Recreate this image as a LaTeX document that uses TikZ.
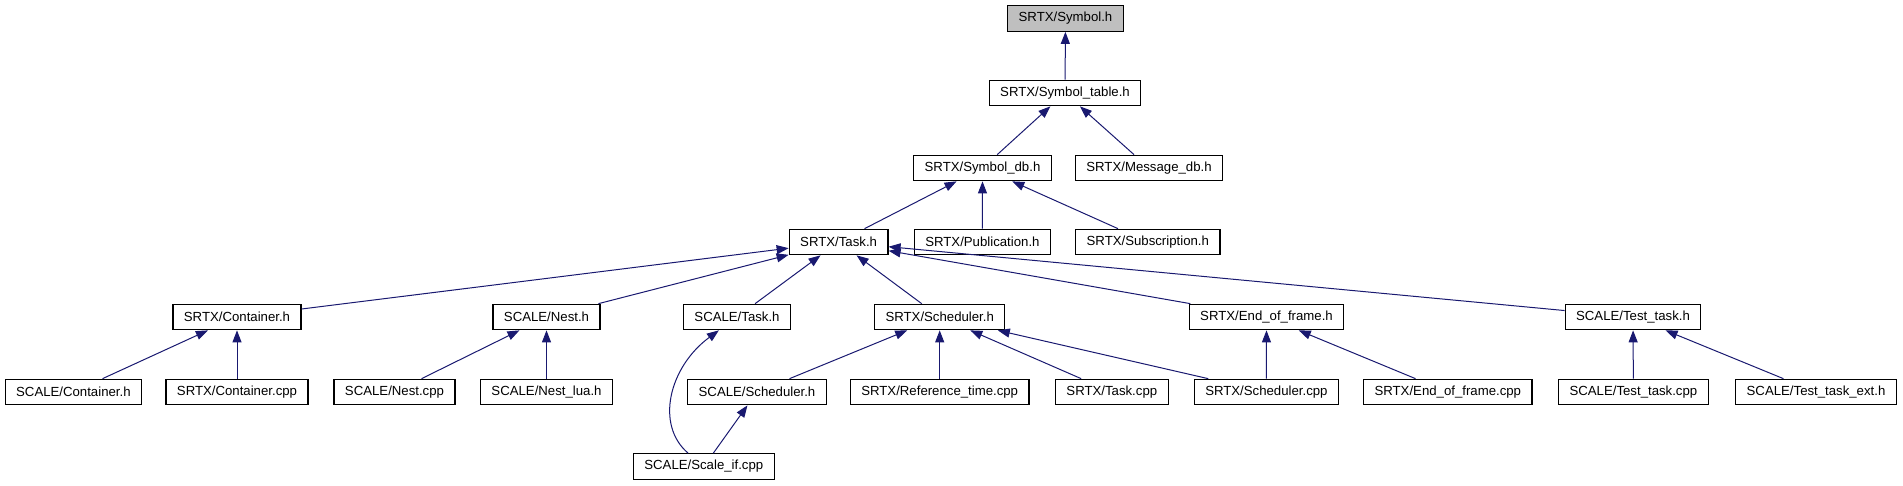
\documentclass[tikz,border=0pt]{standalone}
\usepackage{fontspec}
\setmainfont{Liberation Sans}
\usetikzlibrary{arrows.meta}
\definecolor{edgeblue}{HTML}{191970}
\definecolor{rootgrey}{HTML}{BFBFBF}
\begin{document}
\begin{tikzpicture}[x=1pt,y=-1pt,
  every node/.style={font=\fontsize{13.2}{15}\selectfont},
  file/.style={draw=black,line width=1.2pt,fill=white,inner xsep=11pt,inner ysep=0pt,minimum height=25.5pt},
  root/.style={file,fill=rootgrey},
  dep/.style={draw=edgeblue,line width=1pt,-{Triangle[length=12pt,width=9pt]}}]
  \useasboundingbox (0,0) rectangle (1903,485);
  % rows 1-3
  \node[root] (sym) at (1065.5,18.5) {SRTX/Symbol.h};
  \node[file] (symtab) at (1065,93) {SRTX/Symbol\_table.h};
  \node[file] (symdb) at (982.5,168) {SRTX/Symbol\_db.h};
  \node[file] (msgdb) at (1149,168) {SRTX/Message\_db.h};
  % row 4
  \node[file] (task) at (838.6,242) {SRTX/Task.h};
  \node[file] (pub) at (982.4,242) {SRTX/Publication.h};
  \node[file] (sub) at (1147.8,242) {SRTX/Subscription.h};
  % row 5
  \node[file] (cont) at (237,317) {SRTX/Container.h};
  \node[file] (nest) at (546.5,317) {SCALE/Nest.h};
  \node[file] (stask) at (737,317) {SCALE/Task.h};
  \node[file] (sched) at (939.7,317) {SRTX/Scheduler.h};
  \node[file] (eof) at (1266.5,317) {SRTX/End\_of\_frame.h};
  \node[file] (ttask) at (1633,317) {SCALE/Test\_task.h};
  % row 6
  \node[file] (scont) at (73.4,392) {SCALE/Container.h};
  \node[file] (contcpp) at (237,392) {SRTX/Container.cpp};
  \node[file] (nestcpp) at (394.5,392) {SCALE/Nest.cpp};
  \node[file] (nestlua) at (546.5,392) {SCALE/Nest\_lua.h};
  \node[file] (ssched) at (757,392) {SCALE/Scheduler.h};
  \node[file] (reftime) at (939.7,392) {SRTX/Reference\_time.cpp};
  \node[file] (taskcpp) at (1111.8,392) {SRTX/Task.cpp};
  \node[file] (schedcpp) at (1266.4,392) {SRTX/Scheduler.cpp};
  \node[file] (eofcpp) at (1447.8,392) {SRTX/End\_of\_frame.cpp};
  \node[file] (ttaskcpp) at (1633.4,392) {SCALE/Test\_task.cpp};
  \node[file] (ttaskext) at (1816,392) {SCALE/Test\_task\_ext.h};
  % row 7
  \node[file] (scaleif) at (703.8,466.5) {SCALE/Scale\_if.cpp};
  % dependencies
  \draw[dep] (symtab) -- (sym);
  \draw[dep] (symdb) -- (symtab);
  \draw[dep] (msgdb) -- (symtab);
  \draw[dep] (task) -- (symdb);
  \draw[dep] (pub) -- (symdb);
  \draw[dep] (sub) -- (symdb);
  \draw[dep] (cont) -- (task);
  \draw[dep] (nest) -- (task);
  \draw[dep] (stask) -- (task);
  \draw[dep] (sched) -- (task);
  \draw[dep] (eof) -- (task);
  \draw[dep] (ttask) -- (task);
  \draw[dep] (scont) -- (cont);
  \draw[dep] (contcpp) -- (cont);
  \draw[dep] (nestcpp) -- (nest);
  \draw[dep] (nestlua) -- (nest);
  \draw[dep] (scaleif) .. controls (655,425) and (669,367) .. (stask);
  \draw[dep] (ssched) -- (sched);
  \draw[dep] (reftime) -- (sched);
  \draw[dep] (taskcpp) -- (sched);
  \draw[dep] (schedcpp) -- (sched);
  \draw[dep] (schedcpp) -- (eof);
  \draw[dep] (eofcpp) -- (eof);
  \draw[dep] (scaleif) -- (ssched);
  \draw[dep] (ttaskcpp) -- (ttask);
  \draw[dep] (ttaskext) -- (ttask);
\end{tikzpicture}
\end{document}
